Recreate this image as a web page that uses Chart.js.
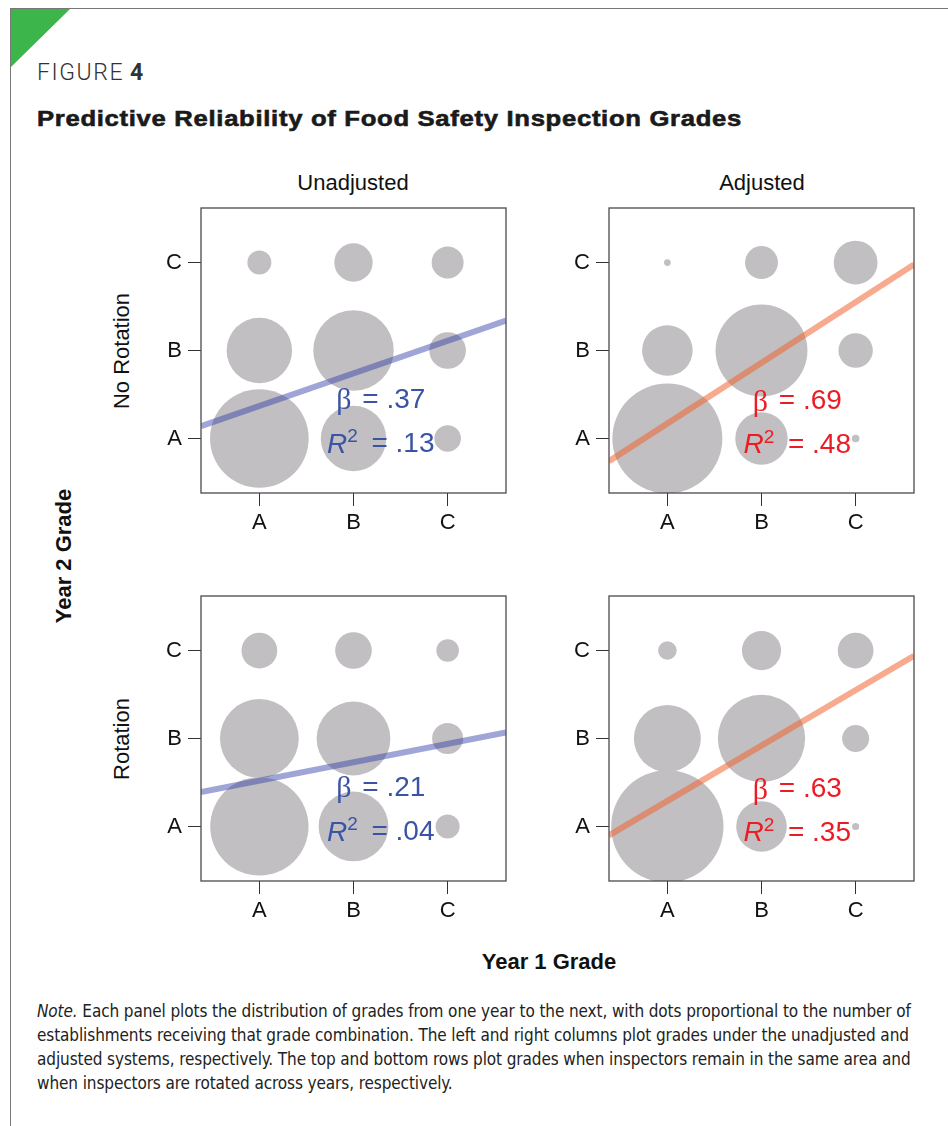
<!DOCTYPE html>
<html lang="en">
<head>
<meta charset="UTF-8">
<title>Predictive Reliability of Food Safety Inspection Grades</title>
<script src="https://cdn.jsdelivr.net/npm/chart.js"></script>
<style>
    body { margin: 0; background: #fff; }
    #page { position: relative; width: 948px; height: 1126px; overflow: hidden;
            font-family: "Liberation Sans", Arial, sans-serif; color: #111; }
    .abs { position: absolute; white-space: nowrap; line-height: 1; }
    .center { transform: translate(-50%, -50%); }
    .vert { transform: translate(-50%, -50%) rotate(-90deg); }
    canvas { position: absolute; }
    .note { position: absolute; left: 37px; white-space: nowrap; line-height: 1;
            transform: translateY(-50%); font-size: 17px; color: #222; letter-spacing: -0.1px;
            font-family: "Liberation Sans Narrow", "DejaVu Sans Condensed", sans-serif; font-stretch: condensed; }
</style>
</head>
<body>
<div id="page">
    <div style="position:absolute;left:10px;top:8px;width:938px;height:1px;background:#777;"></div>
    <div style="position:absolute;left:10px;top:8px;width:1px;height:1118px;background:#777;"></div>
    <div style="position:absolute;left:11px;top:9px;width:59px;height:58px;background:#3cb54a;clip-path:polygon(0 0,100% 0,0 100%);"></div>

    <div class="abs" style="left:37px;top:72px;transform:translateY(-50%);font-size:23px;letter-spacing:1.6px;color:#333;font-family:Roboto,'Liberation Sans',sans-serif;font-weight:300;">FIGURE<b style="font-weight:700;letter-spacing:0;"> 4</b></div>
    <div class="abs" style="left:37px;top:119px;transform:translateY(-50%) scaleX(1.165);transform-origin:left center;font-size:22px;font-weight:700;letter-spacing:0.6px;color:#1a1a1a;-webkit-text-stroke:0.6px #1a1a1a;">Predictive Reliability of Food Safety Inspection Grades</div>

    <div class="abs center" style="left:353px;top:183px;font-size:22px;">Unadjusted</div>
    <div class="abs center" style="left:762px;top:183px;font-size:22px;">Adjusted</div>
    <div class="abs vert" style="left:122px;top:351px;font-size:22px;">No Rotation</div>
    <div class="abs vert" style="left:122px;top:739px;font-size:22px;">Rotation</div>
    <div class="abs vert" style="left:64px;top:556px;font-size:22px;font-weight:700;">Year 2 Grade</div>
    <div class="abs center" style="left:549px;top:962px;font-size:22px;font-weight:700;">Year 1 Grade</div>

    <canvas id="c0" width="365" height="350" style="left:151px;top:188px;"></canvas>
    <canvas id="c1" width="365" height="350" style="left:559px;top:188px;"></canvas>
    <canvas id="c2" width="365" height="350" style="left:151px;top:576px;"></canvas>
    <canvas id="c3" width="365" height="350" style="left:559px;top:576px;"></canvas>

    <div class="note" style="top:1011px;"><i>Note.</i> Each panel plots the distribution of grades from one year to the next, with dots proportional to the number of</div>
    <div class="note" style="top:1035px;">establishments receiving that grade combination. The left and right columns plot grades under the unadjusted and</div>
    <div class="note" style="top:1059px;">adjusted systems, respectively. The top and bottom rows plot grades when inspectors remain in the same area and</div>
    <div class="note" style="top:1083px;">when inspectors are rotated across years, respectively.</div>
</div>
<script>
    // grade categories on both axes
    const grades = ['A', 'B', 'C'];
    // cell order: year 1 grade (x) and year 2 grade (y)
    const cellYear1 = [1, 2, 3, 1, 2, 3, 1, 2, 3];
    const cellYear2 = [3, 3, 3, 2, 2, 2, 1, 1, 1];

    // relative number of establishments per cell (dot area)
    const unadjNoRotation = [9, 23, 16, 67, 101, 21, 152, 67, 11];
    const adjNoRotation   = [0.7, 17, 30, 40, 132, 18.5, 189, 43, 0.9];
    const unadjRotation   = [20, 21, 8, 97, 85, 15, 151, 76, 9];
    const adjRotation     = [5.4, 24, 20, 70, 119, 11.4, 197, 40, 0.8];

    // regression fits (slope, intercept, R squared)
    const betas      = [0.37, 0.69, 0.21, 0.63];
    const intercepts = [1.00, 0.48, 1.31, 0.66];
    const betaLabels = ['.37', '.69', '.21', '.63'];
    const r2Labels   = ['.13', '.48', '.04', '.35'];

    const AXIS_MIN = 0.38, AXIS_MAX = 3.62;
    const BLUE_LINE = 'rgba(48, 59, 168, 0.46)';
    const ORANGE_LINE = 'rgba(240, 100, 50, 0.55)';
    const BLUE_TEXT = '#3a53a4';
    const RED_TEXT = '#ec1c24';
    const FS = 28;

    // frame around the plot area plus the beta / R2 text
    const panelDecor = {
        id: 'panelDecor',
        afterDatasetsDraw(chart, args, opts) {
            const { ctx, chartArea: a, scales } = chart;
            ctx.save();
            const cx = scales.x.getPixelForValue(opts.at[0]);
            const y1 = scales.y.getPixelForValue(opts.at[1]);
            const y2 = scales.y.getPixelForValue(opts.at[2]);
            ctx.fillStyle = opts.color;
            ctx.textBaseline = 'middle';
            const sans = '"Liberation Sans", Arial, sans-serif';
            const serif = '"Liberation Serif", serif';

            // beta line
            ctx.font = (FS + 2) + 'px ' + serif;
            const wb = ctx.measureText('\u03B2').width;
            ctx.font = FS + 'px ' + sans;
            const rest1 = ' = ' + opts.beta;
            const w1 = ctx.measureText(rest1).width;
            let x0 = cx - (wb + w1 + 3) / 2;
            ctx.font = (FS + 2) + 'px ' + serif;
            ctx.fillText('\u03B2', x0, y1 + 2);
            ctx.font = FS + 'px ' + sans;
            ctx.fillText(rest1, x0 + wb + 3, y1 + 1);

            // R2 line
            ctx.font = 'italic ' + FS + 'px ' + sans;
            const wr = ctx.measureText('R').width;
            ctx.font = '19px ' + sans;
            const w2 = ctx.measureText('2').width;
            ctx.font = FS + 'px ' + sans;
            const rest2 = '  = ' + opts.r2;
            const w3 = ctx.measureText(rest2).width;
            x0 = cx - (wr + w2 + w3 - 2) / 2;
            ctx.font = 'italic ' + FS + 'px ' + sans;
            ctx.fillText('R', x0, y2 + 1);
            ctx.font = '19px ' + sans;
            ctx.fillText('2', x0 + wr, y2 - 7);
            ctx.font = FS + 'px ' + sans;
            ctx.fillText(rest2, x0 + wr + w2 - 2, y2 + 1);

            ctx.strokeStyle = '#4a4a4a';
            ctx.lineWidth = 1.3;
            ctx.strokeRect(a.left, a.top, a.right - a.left, a.bottom - a.top);
            ctx.restore();
        }
    };

    function gradeAxis(isX) {
        return {
            type: 'linear',
            min: AXIS_MIN,
            max: AXIS_MAX,
            afterBuildTicks: scale => { scale.ticks = [1, 2, 3].map(v => ({ value: v })); },
            afterFit: scale => {
                if (isX) scale.height = 45; else scale.width = 50;
            },
            ticks: {
                callback: v => grades[v - 1],
                color: '#111',
                padding: isX ? 4 : 6,
                font: { family: '"Liberation Sans", Arial, sans-serif', size: 22 },
                maxRotation: 0
            },
            grid: {
                drawOnChartArea: false,
                drawTicks: true,
                tickLength: 13,
                color: '#333',
                lineWidth: 1
            },
            border: { display: false }
        };
    }

    function makePanel(id, counts, idx, adjusted) {
        const bubbles = counts.map((c, i) => ({
            x: cellYear1[i],
            y: cellYear2[i],
            r: 4 * Math.sqrt(c)
        }));
        const fit = [AXIS_MIN, AXIS_MAX].map(x => ({ x: x, y: intercepts[idx] + betas[idx] * x }));

        new Chart(document.getElementById(id).getContext('2d'), {
            data: {
                datasets: [
                    {
                        type: 'bubble',
                        data: bubbles,
                        backgroundColor: '#c1bfc1',
                        borderWidth: 0,
                        clip: 0,
                        order: 2
                    },
                    {
                        type: 'line',
                        data: fit,
                        borderColor: adjusted ? ORANGE_LINE : BLUE_LINE,
                        borderWidth: 6,
                        pointRadius: 0,
                        fill: false,
                        clip: 0,
                        order: 1
                    }
                ]
            },
            options: {
                responsive: false,
                animation: false,
                events: [],
                layout: { autoPadding: false, padding: { top: 20, right: 10, left: 0, bottom: 0 } },
                plugins: {
                    legend: { display: false },
                    tooltip: { enabled: false },
                    panelDecor: {
                        beta: betaLabels[idx],
                        r2: r2Labels[idx],
                        color: adjusted ? RED_TEXT : BLUE_TEXT,
                        at: adjusted ? [2.38, 1.43, 0.93] : [2.29, 1.45, 0.94]
                    }
                },
                scales: {
                    x: gradeAxis(true),
                    y: gradeAxis(false)
                }
            },
            plugins: [panelDecor]
        });
    }

    makePanel('c0', unadjNoRotation, 0, false);
    makePanel('c1', adjNoRotation, 1, true);
    makePanel('c2', unadjRotation, 2, false);
    makePanel('c3', adjRotation, 3, true);
</script>
</body>
</html>
